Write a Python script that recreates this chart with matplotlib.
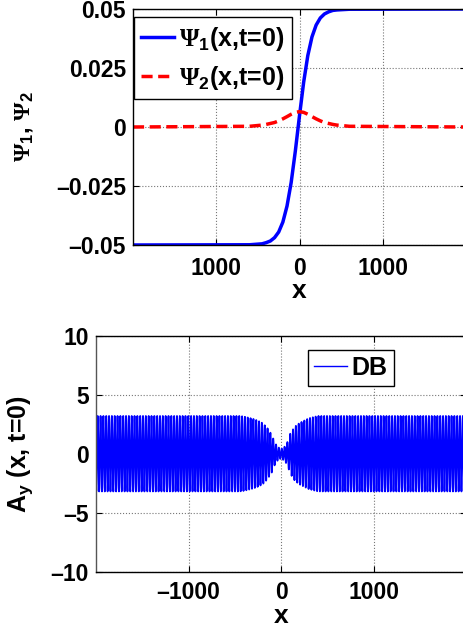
import numpy as np
import matplotlib
matplotlib.use("Agg")
import matplotlib.pyplot as plt

plt.rcParams['font.family'] = ['Liberation Sans', 'DejaVu Sans']
plt.rcParams['font.weight'] = 'bold'
plt.rcParams['mathtext.fontset'] = 'custom'
plt.rcParams['mathtext.rm'] = 'Liberation Serif'
plt.rcParams['mathtext.bf'] = 'Liberation Sans:bold'
plt.rcParams['mathtext.it'] = 'Liberation Sans:bold'
plt.rcParams['mathtext.default'] = 'bf'

# ---- data ----
x_psi = [-2000, -600, -450, -400, -350, -300, -250, -200, -150, -100, -50, 0,
         50, 100, 150, 200, 250, 300, 350, 400, 450, 600, 2000]
psi1 = [-0.0500, -0.0499, -0.0495, -0.0490, -0.0483, -0.0469, -0.0445, -0.0403,
        -0.0335, -0.0235, -0.0102, 0.0048, 0.0190, 0.0303, 0.0382, 0.0432,
        0.0462, 0.0479, 0.0488, 0.0494, 0.0496, 0.0499, 0.0500]
psi2 = [0.0, 0.0003, 0.0008, 0.0011, 0.0015, 0.0019, 0.0026, 0.00345, 0.0044,
        0.0054, 0.0062, 0.0065, 0.0062, 0.0054, 0.0044, 0.00345, 0.0026,
        0.0019, 0.0015, 0.0011, 0.0008, 0.0003, 0.0]

# Ay envelope (amplitude read at positions) and carrier period
env_x = [-2000, -450, -400, -350, -300, -250, -200, -150, -100, -70, -40, 0,
         40, 70, 100, 150, 200, 250, 300, 350, 400, 2000]
env_amp = [3.2, 3.2, 3.15, 3.05, 2.95, 2.8, 2.6, 2.2, 1.6, 1.0, 0.6, 0.4,
           0.6, 1.0, 1.7, 2.3, 2.6, 2.8, 3.0, 3.1, 3.2, 3.2]
carrier_period = 30.6

top_xticks = [-1000, 0, 1000]
top_xticklabels = ['1000', '0', '1000']
top_yticks = [-0.05, -0.025, 0, 0.025, 0.05]
top_yticklabels = ['\u20130.05', '\u20130.025', '0', '0.025', '0.05']
bot_xticks = [-1000, 0, 1000]
bot_xticklabels = ['\u20131000', '0', '1000']
bot_yticks = [-10, -5, 0, 5, 10]
bot_yticklabels = ['\u201310', '\u20135', '0', '5', '10']

W, H = 464, 630
fig = plt.figure(figsize=(W / 100, H / 100), dpi=100)

def fr(l, r, t, b):
    return [l / W, 1 - b / H, (r - l) / W, (b - t) / H]

ax1 = fig.add_axes(fr(133, 466, 9, 245))
ax2 = fig.add_axes(fr(96, 466, 335.7, 571.7))

ax1.plot(x_psi, psi1, color='#0000ff', lw=2.5, label=r'$\mathrm{\Psi}_1$(x,t=0)')
ax1.plot(x_psi, psi2, color='#ff0000', lw=2.5, ls=(0, (3.2, 1.6)),
         label=r'$\mathrm{\Psi}_2$(x,t=0)')
ax1.set_xlim(-2000, 2000)
ax1.set_ylim(-0.05, 0.05)
ax1.set_xticks(top_xticks)
ax1.set_xticklabels(top_xticklabels)
ax1.set_yticks(top_yticks)
ax1.set_yticklabels(top_yticklabels)
ax1.set_xlabel('x', fontsize=19, fontweight='bold', labelpad=-1)
ax1.set_ylabel(r'$\mathrm{\Psi}_1$, $\mathrm{\Psi}_2$', fontsize=17, fontweight='bold')
ax1.yaxis.set_label_coords(-0.29, 0.50)
leg1 = ax1.legend(loc='upper left', bbox_to_anchor=(0.003, 0.966), fontsize=18,
                  frameon=True, fancybox=False, framealpha=1, edgecolor='black',
                  handlelength=1.3, handletextpad=0.2, borderpad=0.3,
                  labelspacing=0.45, borderaxespad=0.0)
leg1.get_frame().set_linewidth(1.0)

xs = np.linspace(-2000, 2000, 8001)
env = np.interp(xs, env_x, env_amp)
ay = env * np.sin(2 * np.pi * xs / carrier_period)
ax2.plot(xs, ay, color='#0000ff', lw=1.3, label='DB')
ax2.set_xlim(-2000, 2000)
ax2.set_ylim(-10, 10)
ax2.set_xticks(bot_xticks)
ax2.set_xticklabels(bot_xticklabels)
ax2.set_yticks(bot_yticks)
ax2.set_yticklabels(bot_yticklabels)
ax2.set_xlabel('x', fontsize=19, fontweight='bold', labelpad=0)
ax2.set_ylabel('A$_y$ (x, t=0)', fontsize=18, fontweight='bold')
ax2.yaxis.set_label_coords(-0.165, 0.5)
leg2 = ax2.legend(loc='upper left', bbox_to_anchor=(0.573, 0.94), fontsize=18,
                  frameon=True, fancybox=False, framealpha=1, edgecolor='black',
                  handlelength=1.3, handletextpad=0.2, borderpad=0.25,
                  borderaxespad=0.0)
leg2.get_frame().set_linewidth(1.0)
for h in leg2.get_lines():
    h.set_linewidth(1.0)

for ax in (ax1, ax2):
    ax.grid(True, ls=':', color='#777777', lw=0.8)
    ax.tick_params(direction='in', length=4, width=0.8, labelsize=16.5, pad=5,
                   top=True, right=True)
    for lab in ax.get_xticklabels() + ax.get_yticklabels():
        lab.set_fontweight('bold')
    for s in ax.spines.values():
        s.set_linewidth(1.0)
ax1.tick_params(axis='x', pad=9)
ax2.tick_params(axis='x', pad=7)
ax2.spines['left'].set_color('#555555')

fig.savefig('out.png', dpi=100)
